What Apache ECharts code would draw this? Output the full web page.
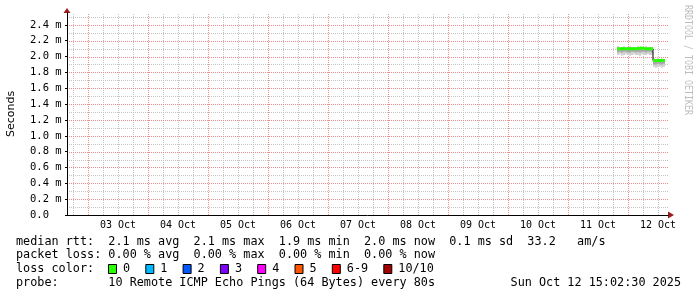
<!DOCTYPE html>
<html><head><meta charset="utf-8">
<script src="https://cdn.jsdelivr.net/npm/echarts@6/dist/echarts.min.js"></script>
<style>html,body{margin:0;padding:0;background:#fff}#c{width:697px;height:297px}</style>
</head><body><div id="c"></div>
<script>
// ---------- data (x values: hours since 03 Oct 00:00) ----------
const dayLabels = ['03 Oct','04 Oct','05 Oct','06 Oct','07 Oct','08 Oct','09 Oct','10 Oct','11 Oct','12 Oct'];
const dayMidnights = [0,24,48,72,96,120,144,168,192,216];
const dayNoons = [12,36,60,84,108,132,156,180,204,228];
const minorHours = [-6,6,12,18,30,36,42,54,60,66,78,84,90,102,108,114,126,132,138,150,156,162,174,180,186,198,204,210,222,228];
const yMajorTicks = [0,0.2,0.4,0.6,0.8,1.0,1.2,1.4,1.6,1.8,2.0,2.2,2.4];
const yMinorTicks = [0.1,0.3,0.5,0.7,0.9,1.1,1.3,1.5,1.7,1.9,2.1,2.3,2.5];
const xRange = [-8.4, 232];
const yRange = [0, 2.55];

const sampleTimes = [211.6,212.4,213.2,214.0,214.8,215.6,216.4,217.2,218.0,218.8,219.6,220.4,221.2,222.0,222.8,223.6,224.4,225.2,
                     226.0,226.8,227.6,228.4,229.2,230.0];
const sampleEnd = 230.8;
// values in ms
const median   = [2.10,2.10,2.11,2.10,2.10,2.10,2.11,2.10,2.10,2.10,2.10,2.11,2.10,2.10,2.10,2.10,2.10,2.10,
                  1.95,1.95,1.94,1.95,1.95,1.95];
const pingMin  = [2.02,2.03,2.01,2.02,2.03,2.02,2.01,2.02,2.03,2.02,2.02,2.01,2.03,2.02,2.02,2.03,2.02,2.02,
                  1.87,1.86,1.87,1.87,1.86,1.87];
const pingLow  = [2.05,2.06,2.05,2.06,2.06,2.05,2.05,2.06,2.06,2.05,2.06,2.05,2.06,2.06,2.05,2.06,2.06,2.05,
                  1.90,1.90,1.91,1.90,1.90,1.91];
const pingHigh = [2.11,2.11,2.12,2.11,2.11,2.11,2.12,2.11,2.11,2.11,2.11,2.12,2.11,2.11,2.11,2.11,2.11,2.11,
                  1.96,1.96,1.95,1.96,1.96,1.96];
const pingMax  = [2.13,2.12,2.12,2.13,2.12,2.12,2.13,2.12,2.12,2.12,2.13,2.12,2.12,2.12,2.13,2.12,2.12,2.12,
                  1.98,1.97,1.98,1.97,1.98,1.97];

const statLines = [
  'median rtt:  2.1 ms avg  2.1 ms max  1.9 ms min  2.0 ms now  0.1 ms sd  33.2   am/s',
  'packet loss: 0.00 % avg  0.00 % max  0.00 % min  0.00 % now'
];
const lossTitle = 'loss color:';
const lossLabels = ['0','1','2','3','4','5','6-9','10/10'];
const lossColors = ['#26ff00','#00b8ff','#0059ff','#7e00ff','#ff00ff','#ff5500','#ff0000','#a10000'];
const probeLine = 'probe:       10 Remote ICMP Echo Pings (64 Bytes) every 80s';
const stampText = 'Sun Oct 12 15:02:30 2025';
const yAxisTitle = 'Seconds';
const watermark = 'RRDTOOL / TOBI OETIKER';

// ---------- build ----------
function tEnd(i){ return i+1<sampleTimes.length ? sampleTimes[i+1] : sampleEnd; }
function pts(arr){
  const p = arr.map((v,i)=>[sampleTimes[i], v]);
  p.push([sampleEnd, arr[arr.length-1]]);
  return p;
}
function bandRows(lo, hi){ return lo.map((v,i)=>[sampleTimes[i], tEnd(i), v, hi[i]]); }

const greenData = [];
for (let i=0;i<median.length;i++){
  greenData.push([sampleTimes[i], median[i]]);
  if (i+1>=median.length || Math.abs(median[i+1]-median[i])>0.05){
    greenData.push([tEnd(i), median[i]]);
    if (i+1<median.length) greenData.push([tEnd(i), null]);
  }
}

function smokeSeries(rows, color, z){
  return {type:'custom', data:rows, z:z, silent:true, clip:true,
    encode:{x:[0,1], y:[2,3]},
    renderItem:function(params, api){
      const a = api.coord([api.value(0), api.value(3)]);
      const b = api.coord([api.value(1), api.value(2)]);
      return {type:'rect', shape:{x:a[0], y:a[1], width:b[0]-a[0], height:b[1]-a[1]}, style:{fill:color}};
    }};
}
// grid lines drawn through the axes' scales from the tick arrays
function gridSeries(values, vertical, color){
  const rows = values.map(v => vertical ? [v, yRange[0]] : [xRange[0], v]);
  return {type:'custom', data:rows, z:1, silent:true, clip:false, encode:{x:0, y:1},
    renderItem:function(params, api){
      let x1,y1,x2,y2;
      if (vertical){
        const a = api.coord([api.value(0), yRange[0]]), b = api.coord([api.value(0), yRange[1]]);
        x1 = x2 = Math.round(a[0]) + 0.5; y1 = a[1]; y2 = b[1];
      } else {
        const a = api.coord([xRange[0], api.value(1)]), b = api.coord([xRange[1], api.value(1)]);
        y1 = y2 = Math.round(a[1]) + 0.5; x1 = a[0]; x2 = b[0];
      }
      return {type:'line', shape:{x1:x1, y1:y1, x2:x2, y2:y2}, style:{stroke:color, lineWidth:1, lineDash:[1,1]}};
    }};
}

const MONO = '"DejaVu Sans Mono", monospace';

const graphic = [];
graphic.push({type:'text', x:11, y:114, rotation:Math.PI/2,
  style:{text:yAxisTitle, font:'11px "DejaVu Sans"', fill:'#000', textAlign:'center', textVerticalAlign:'middle', align:'center', verticalAlign:'middle'}});
graphic.push({type:'text', x:688, y:60, rotation:-Math.PI/2, scaleY:1.35,
  style:{text:watermark, font:'8.3px '+MONO, fill:'#bdbdbd', textAlign:'center', textVerticalAlign:'middle', align:'center', verticalAlign:'middle'}});
const lineY = [241.5, 255.2, 269, 282.7];
const LF = '11.8px '+MONO, CW = 7.1;
statLines.forEach((s,i)=>graphic.push({type:'text', x:16, y:lineY[i],
  style:{text:s, font:LF, fill:'#000', textVerticalAlign:'middle', verticalAlign:'middle'}}));
graphic.push({type:'text', x:16, y:lineY[2], style:{text:lossTitle, font:LF, fill:'#000', textVerticalAlign:'middle', verticalAlign:'middle'}});
let bx = 108;
lossLabels.forEach((lab,i)=>{
  graphic.push({type:'rect', shape:{x:bx+0.5, y:264.5, width:8, height:9}, style:{fill:lossColors[i], stroke:'#000', lineWidth:1}});
  graphic.push({type:'text', x:bx+15, y:lineY[2], style:{text:lab, font:LF, fill:'#000', textVerticalAlign:'middle', verticalAlign:'middle'}});
  bx += 15 + lab.length*CW + 15.2;
});
graphic.push({type:'text', x:16, y:lineY[3], style:{text:probeLine, font:LF, fill:'#000', textVerticalAlign:'middle', verticalAlign:'middle'}});
graphic.push({type:'text', x:681, y:lineY[3], style:{text:stampText, font:LF, fill:'#000', textAlign:'right', align:'right', textVerticalAlign:'middle', verticalAlign:'middle'}});

const MAJ = '#ec8c8c', MIN = '#c4c4c4', ARROW = '#9b1c1c';

const option = {
  animation:false,
  backgroundColor:'#fff',
  grid:{left:67, top:13, width:601, height:202, containLabel:false, outerBoundsMode:'none'},
  graphic: graphic,
  xAxis:[
    {type:'value', min:xRange[0], max:xRange[1], position:'bottom', z:5,
      axisLine:{onZero:false, lineStyle:{color:'#000', width:1}},
      axisTick:{show:false}, splitLine:{show:false},
      axisLabel:{customValues:dayNoons, formatter:v=>dayLabels[dayNoons.indexOf(Math.round(v))]||'', margin:5,
        fontFamily:MONO, fontSize:10, color:'#000'}},
    {type:'value', min:xRange[0], max:xRange[1], position:'bottom',
      axisLine:{show:true, onZero:false, symbol:['none','triangle'], symbolSize:[7,6], symbolOffset:[0,3], lineStyle:{color:ARROW, width:0}},
      axisTick:{show:false}, axisLabel:{show:false}, splitLine:{show:false}}
  ],
  yAxis:[
    {type:'value', min:yRange[0], max:yRange[1], position:'left', z:5,
      axisLine:{onZero:false, lineStyle:{color:'#000', width:1}},
      axisTick:{show:true, length:2, customValues:yMajorTicks, lineStyle:{color:'#000'}},
      splitLine:{show:false},
      axisLabel:{customValues:yMajorTicks, align:'left', margin:37, fontFamily:MONO, fontSize:10.5, color:'#000',
        formatter:v=> Math.abs(v)<1e-9 ? '0.0' : v.toFixed(1)+' m'}},
    {type:'value', min:yRange[0], max:yRange[1], position:'left',
      axisLine:{show:true, onZero:false, symbol:['none','triangle'], symbolSize:[7,5], symbolOffset:[0,2.5], lineStyle:{color:ARROW, width:0}},
      axisTick:{show:false}, axisLabel:{show:false}, splitLine:{show:false}}
  ],
  series:[
    gridSeries(minorHours, true, MIN),
    gridSeries(yMinorTicks, false, MIN),
    gridSeries(dayMidnights, true, MAJ),
    gridSeries(yMajorTicks.slice(1), false, MAJ),
    smokeSeries(bandRows(pingMin, pingMax), '#d2d2d2', 2),
    smokeSeries(bandRows(pingLow, pingHigh), '#a8a8a8', 3),
    {type:'line', step:'end', symbol:'none', data:pts(median), lineStyle:{color:'#000', width:1}, z:4, silent:true},
    {type:'line', step:'end', symbol:'none', data:greenData, connectNulls:false, lineStyle:{color:lossColors[0], width:3}, z:5, silent:true}
  ]
};
const chart = echarts.init(document.getElementById('c'), null, {renderer:'canvas'});
chart.setOption(option);
</script></body></html>
